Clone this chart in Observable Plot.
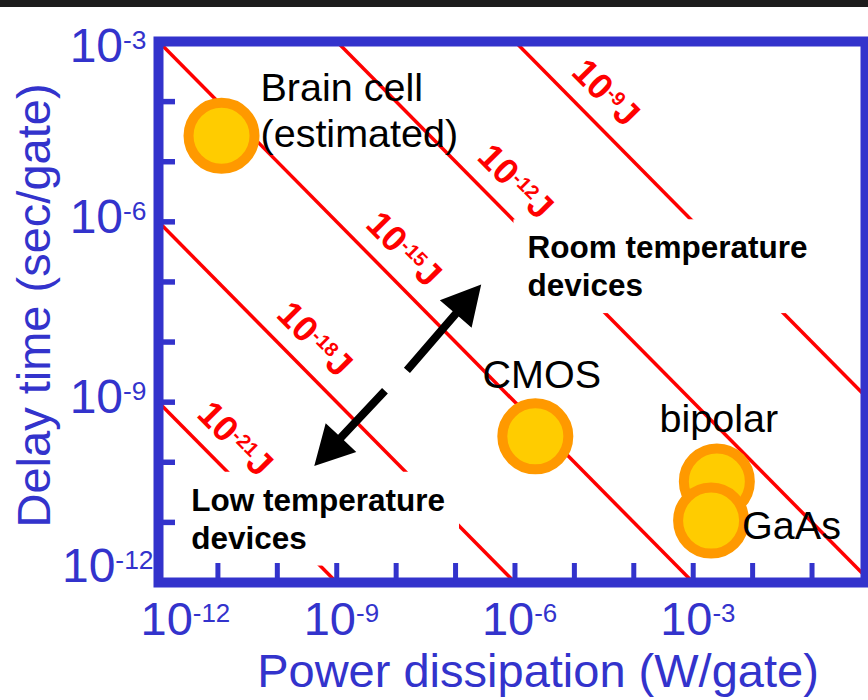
<!DOCTYPE html>
<html><head><meta charset="utf-8">
<script src="https://cdn.jsdelivr.net/npm/d3@7"></script>
<script src="https://cdn.jsdelivr.net/npm/@observablehq/plot@0.6"></script>
<style>
html,body{margin:0;padding:0;background:#fff;}
#band{height:7px;background:#1c1c1c;}
#chart svg{display:block;}
</style></head><body>
<div id="band"></div>
<div id="chart"></div>
<script>
// ---- data ----
const devices = ["Brain cell\n(estimated)", "CMOS", "bipolar", "GaAs"];
const powerW = [1.15e-11, 2.2e-6, 2.5e-3, 2.0e-3];
const delayS = [2.7e-5, 2.7e-10, 4.8e-11, 1.07e-11];
const energiesJ = [1e-9, 1e-12, 1e-15, 1e-18, 1e-21];
const xTickValues = [1e-11, 1e-10, 1e-9, 1e-8, 1e-7, 1e-6, 1e-5, 1e-4, 1e-3, 1e-2, 1e-1];
const yTickValues = [1e-4, 1e-5, 1e-6, 1e-7, 1e-8, 1e-9, 1e-10, 1e-11];
const xTickLabels = [1e-12, 1e-9, 1e-6, 1e-3];
const yTickLabels = [1e-3, 1e-6, 1e-9, 1e-12];
const xTitle = "Power dissipation (W/gate)";
const yTitle = "Delay time (sec/gate)";
const notes = ["Room temperature\ndevices", "Low temperature\ndevices"];
const notePower = [10 ** -5.79, 10 ** -11.45];
const noteDelay = [10 ** -6.16, 10 ** -10.36];
const energyLabelPower = [10 ** -4.81, 10 ** -6.33, 10 ** -8.21, 10 ** -9.71, 10 ** -11.05];
const arrowFromP = [10 ** -7.81, 10 ** -8.18];
const arrowFromT = [10 ** -8.48, 10 ** -8.82];
const arrowToP = [10 ** -6.56, 10 ** -9.37];
const arrowToT = [10 ** -7.05, 10 ** -10.07];

// ---- style ----
const BLUE = "#3333cc";
const RED = "#ff0000";
const FONT = "'Liberation Sans', Arial, Helvetica, sans-serif";
const xDomain = [1e-12, 10 ** -0.1];
const yDomain = [1e-12, 1e-3];
const M = {left: 158, right: 3, top: 34, bottom: 118};
const W = 868, H = 693;
const plotW = W - M.left - M.right, plotH = H - M.top - M.bottom;

const table = devices.map((name, i) => ({name, p: powerW[i], t: delayS[i]}));
const fmt = d => `10^{${Math.round(Math.log10(d))}}`;

const xLab = (vals, dx) => Plot.text(vals, {x: d => d, text: fmt, frameAnchor: "bottom", textAnchor: "start", lineAnchor: "top", dx, dy: 19, fill: BLUE, fontSize: 47});
const yLab = (vals, dx, dy) => Plot.text(vals, {y: d => d, text: fmt, frameAnchor: "left", textAnchor: "end", lineAnchor: "top", dx, dy, fill: BLUE, fontSize: 48});
const devLab = (name, opts) => Plot.text(table.filter(d => d.name === name), {x: "p", y: "t", text: "name", fill: "black", fontSize: 39.5, lineAnchor: "top", ...opts});

function arrowsMark(index, scales) {
  const g = d3.create("svg:g").attr("fill", "black");
  const headLen = 39, headHalf = 21, shaftHalf = 4;
  for (let i = 0; i < arrowFromP.length; i++) {
    const sx = scales.x(arrowFromP[i]), sy = scales.y(arrowFromT[i]);
    const tx = scales.x(arrowToP[i]), ty = scales.y(arrowToT[i]);
    const L = Math.hypot(tx - sx, ty - sy);
    const ux = (tx - sx) / L, uy = (ty - sy) / L;
    const nx = -uy, ny = ux;
    const bx = tx - ux * headLen, by = ty - uy * headLen;
    const pts = [
      [sx + nx * shaftHalf, sy + ny * shaftHalf],
      [bx + nx * shaftHalf, by + ny * shaftHalf],
      [bx + nx * headHalf, by + ny * headHalf],
      [tx, ty],
      [bx - nx * headHalf, by - ny * headHalf],
      [bx - nx * shaftHalf, by - ny * shaftHalf],
      [sx - nx * shaftHalf, sy - ny * shaftHalf]
    ];
    g.append("path").attr("d", "M" + pts.map(p => p.join(",")).join("L") + "Z");
  }
  return g.node();
}

const chart = Plot.plot({
  width: W, height: H,
  marginLeft: M.left, marginRight: M.right, marginTop: M.top, marginBottom: M.bottom,
  x: {type: "log", domain: xDomain, axis: null},
  y: {type: "log", domain: yDomain, axis: null},
  style: {fontFamily: FONT, background: "white"},
  marks: [
    // iso-energy lines
    Plot.link(energiesJ, {x1: () => 1e-12, y1: d => d / 1e-12, x2: () => 1, y2: d => d / 1, stroke: RED, strokeWidth: 3.5, clip: true}),
    // notes (masks inserted behind them afterwards)
    Plot.text(notes, {x: (d, i) => notePower[i], y: (d, i) => noteDelay[i], text: d => d, textAnchor: "start", lineAnchor: "top", lineHeight: 1.2, fontSize: 31.5, fontWeight: "bold", fill: "black"}),
    // frame and ticks
    Plot.frame({stroke: BLUE, strokeWidth: 10}),
    Plot.ruleX(xTickValues, {x: d => d, stroke: BLUE, strokeWidth: 5, insetTop: plotH - 19}),
    Plot.ruleY(yTickValues, {y: d => d, stroke: BLUE, strokeWidth: 5.5, insetRight: plotW - 17}),
    // tick labels
    xLab([1e-12], -18),
    xLab([1e-9, 1e-6, 1e-3], -33),
    yLab([1e-3], -12, -14),
    yLab([1e-6, 1e-9], -12, -23),
    yLab([1e-12], -5, -35),
    // axis titles
    Plot.text([xTitle], {text: d => d, frameAnchor: "bottom", textAnchor: "middle", lineAnchor: "top", dx: 26, dy: 71, fontSize: 47, fill: BLUE}),
    Plot.text([yTitle], {text: d => d, frameAnchor: "left", rotate: -90, textAnchor: "middle", lineAnchor: "top", dx: -142, dy: -6.5, fontSize: 47, fill: BLUE}),
    // energy labels
    Plot.text(energiesJ, {x: (d, i) => energyLabelPower[i], y: (d, i) => d / energyLabelPower[i], text: d => `10^{${Math.round(Math.log10(d))}}J`, rotate: 45, textAnchor: "middle", lineAnchor: "middle", dx: 20, dy: -20, fontSize: 36, fontWeight: "bold", fill: RED}),
    // devices
    Plot.dot(table, {x: "p", y: "t", r: 33, fill: "#ffcc00", stroke: "#ff9900", strokeWidth: 10}),
    devLab("Brain cell\n(estimated)", {textAnchor: "start", lineHeight: 1.165, dx: 39, dy: -67}),
    devLab("CMOS", {textAnchor: "middle", dx: 6.5, dy: -76}),
    devLab("bipolar", {textAnchor: "middle", dx: 2, dy: -77}),
    devLab("GaAs", {textAnchor: "start", dx: 31, dy: -10}),
    // arrows
    arrowsMark
  ]
});
document.getElementById("chart").append(chart);

// superscripts: "base^{sup}rest"
const NS = "http://www.w3.org/2000/svg";
chart.querySelectorAll("text").forEach(t => {
  const nodes = t.querySelector("tspan") ? Array.from(t.querySelectorAll("tspan")) : [t];
  const fs = parseFloat(getComputedStyle(t).fontSize);
  nodes.forEach(node => {
    const m = node.textContent.match(/^(.*?)\^\{(.*?)\}(.*)$/);
    if (!m) return;
    node.textContent = "";
    const a = document.createElementNS(NS, "tspan");
    a.textContent = m[1];
    node.appendChild(a);
    const b = document.createElementNS(NS, "tspan");
    b.textContent = m[2];
    b.setAttribute("font-size", (fs * 0.55).toFixed(1));
    b.setAttribute("dy", (-fs * 0.27).toFixed(1));
    node.appendChild(b);
    if (m[3]) {
      const c = document.createElementNS(NS, "tspan");
      c.textContent = m[3];
      c.setAttribute("dy", (fs * 0.27).toFixed(1));
      node.appendChild(c);
    }
  });
});

// white boxes behind the two notes (they interrupt the energy lines)
const noteKeys = notes.map(n => n.replace(/\n/g, ""));
chart.querySelectorAll("text").forEach(t => {
  if (!noteKeys.includes(t.textContent)) return;
  const bb = t.getBBox();
  const r = document.createElementNS(NS, "rect");
  r.setAttribute("x", bb.x - 14);
  r.setAttribute("y", bb.y - 10);
  r.setAttribute("width", bb.width + 28);
  r.setAttribute("height", bb.height + 20);
  r.setAttribute("fill", "white");
  r.setAttribute("stroke", "none");
  if (t.getAttribute("transform")) r.setAttribute("transform", t.getAttribute("transform"));
  t.parentNode.insertBefore(r, t);
});
</script>
</body></html>
